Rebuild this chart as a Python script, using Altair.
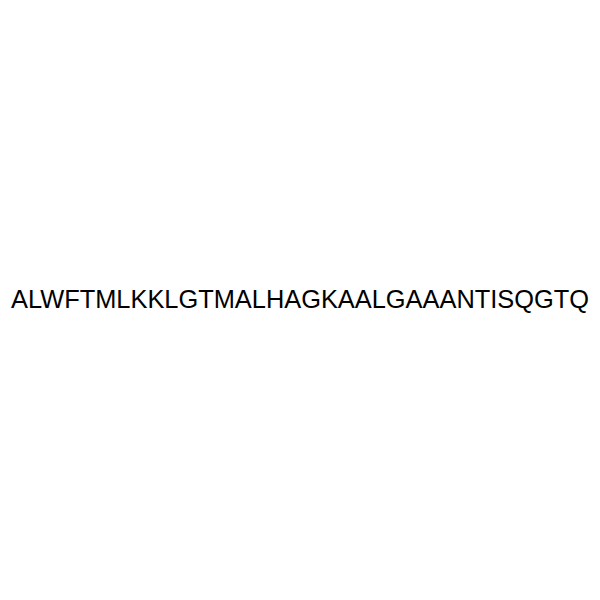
import altair as alt
import pandas as pd

labels = ["ALWFTMLKKLGTMALHAGKAALGAAANTISQGTQ"]
xs = [0.5]
ys = [0.5]

df = pd.DataFrame({"label": labels, "x": xs, "y": ys})

chart = alt.Chart(df).mark_text(
    font="Liberation Sans", fontSize=25.4, color="black", align="center", baseline="middle"
).encode(
    x=alt.X("x:Q", scale=alt.Scale(domain=[0, 1]), axis=None),
    y=alt.Y("y:Q", scale=alt.Scale(domain=[0, 1]), axis=None),
    text="label:N",
).properties(width=584, height=584, padding=0, autosize="none").configure_view(stroke=None)

chart.save("out.html", embed_options={"renderer": "svg", "actions": False})
